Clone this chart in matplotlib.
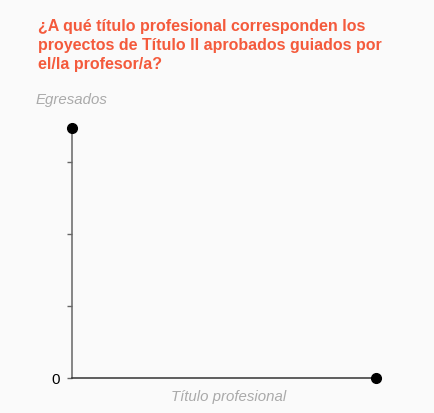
import matplotlib
matplotlib.use("Agg")
import matplotlib.pyplot as plt

title = "¿A qué título profesional corresponden los\nproyectos de Título II aprobados guiados por\nel/la profesor/a?"
y_label = "Egresados"
x_label = "Título profesional"
y_ticks = [0, 1, 2, 3]
y_tick_labels = ["0", "", "", ""]
y_max = 3.47
x_range = [0, 1]

plt.rcParams['font.family'] = ['Liberation Sans', 'DejaVu Sans']
fig = plt.figure(figsize=(4.35, 4.13), dpi=100, facecolor="#fafafa")
ax = fig.add_axes([72/435, 1-378/413, (376-72)/435, (378-128)/413])
ax.set_facecolor("#fafafa")
ax.set_xlim(x_range)
ax.set_ylim(0, y_max)
for s in ["top", "right"]:
    ax.spines[s].set_visible(False)
ax.spines["left"].set_color("#666666")
ax.spines["left"].set_linewidth(1.1)
ax.spines["bottom"].set_color("#333333")
ax.spines["bottom"].set_linewidth(1.1)
ax.set_xticks([])
ax.set_yticks(y_ticks)
ax.set_yticklabels(y_tick_labels, fontsize=10.8, color="#000000")
ax.tick_params(axis="y", length=3.6, width=1, color="#666666", pad=5)

ax.plot([0], [y_max], "o", color="black", markersize=7, clip_on=False, zorder=5)
ax.plot([1], [0], "o", color="black", markersize=7, clip_on=False, zorder=5)

fig.text(38/435, 1-19/413, title, fontsize=11.5, fontweight="bold", color="#f45a3c",
         va="top", ha="left", linespacing=1.33)
fig.text(36/435, 1-100/413, y_label, fontsize=10.8, style="italic", color="#aaaaaa",
         va="center", ha="left")
fig.text(229/435, 1-397/413, x_label, fontsize=10.8, style="italic", color="#aaaaaa",
         va="center", ha="center")

fig.savefig("out.png", dpi=100, facecolor=fig.get_facecolor())
